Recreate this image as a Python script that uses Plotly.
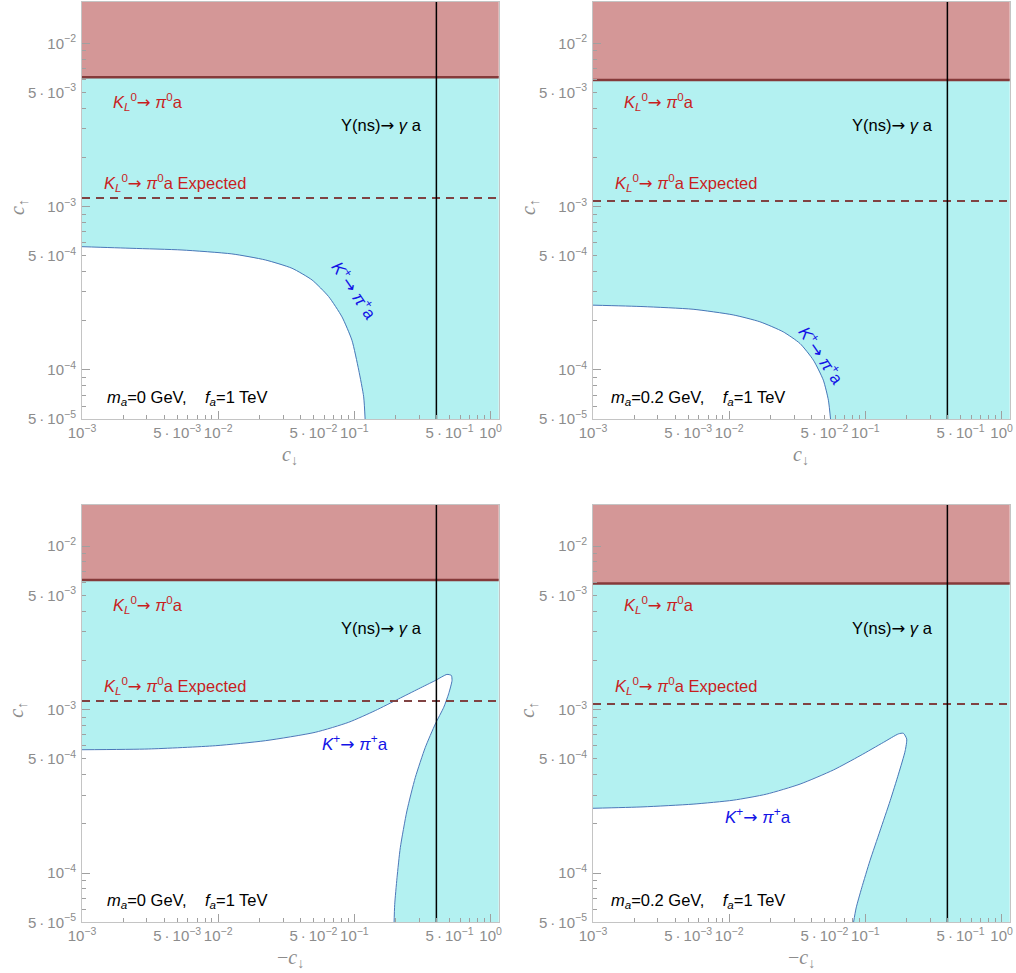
import plotly.graph_objects as go
import numpy as np

W, H = 1016, 973

# ---------------- data ----------------
X_MIN, X_MAX = 1e-3, 1.147
Y_MIN, Y_MAX = 5e-5, 0.0179

# K+ -> pi+ a exclusion boundary
KP_X_1 = [1.0e-3, 2.33e-3, 5.42e-3, 1.26e-2, 2.22e-2, 3.48e-2, 4.89e-2, 6.47e-2, 8.11e-2, 9.59e-2, 0.1076, 0.117, 0.120]
KP_Y_1 = [5.68e-4, 5.55e-4, 5.42e-4, 5.13e-4, 4.71e-4, 4.19e-4, 3.55e-4, 2.81e-4, 2.11e-4, 1.52e-4, 9.96e-5, 6.83e-5, 4.9e-5]

KP_X_2 = [1.0e-3, 2.33e-3, 5.43e-3, 1.07e-2, 1.68e-2, 2.49e-2, 3.31e-2, 4.15e-2, 4.91e-2, 5.35e-2, 5.56e-2]
KP_Y_2 = [2.49e-4, 2.44e-4, 2.35e-4, 2.17e-4, 1.97e-4, 1.71e-4, 1.45e-4, 1.147e-4, 8.65e-5, 6.52e-5, 4.9e-5]

KP_X_3 = [1.0e-3, 3.09e-3, 9.53e-3, 2.22e-2, 5.16e-2, 9.08e-2, 0.1424, 0.2115, 0.2965, 0.393, 0.478, 0.515,
          0.521, 0.492, 0.453, 0.393, 0.3316, 0.280, 0.243, 0.2173, 0.2056, 0.1977, 0.1954]
KP_Y_3 = [5.68e-4, 5.74e-4, 6.01e-4, 6.45e-4, 7.26e-4, 8.36e-4, 9.86e-4, 1.163e-3, 1.34e-3, 1.506e-3, 1.64e-3, 1.617e-3,
          1.506e-3, 1.248e-3, 1.033e-3, 8.17e-4, 5.87e-4, 3.84e-4, 2.40e-4, 1.43e-4, 9.36e-5, 6.43e-5, 4.84e-5]

KP_X_4 = [1.0e-3, 2.33e-3, 5.43e-3, 1.07e-2, 1.88e-2, 3.31e-2, 5.82e-2, 9.14e-2, 0.1357, 0.175, 0.190, 0.201,
          0.196, 0.175, 0.152, 0.128, 0.108, 0.094, 0.0855, 0.0817]
KP_Y_4 = [2.49e-4, 2.54e-4, 2.64e-4, 2.79e-4, 3.04e-4, 3.50e-4, 4.27e-4, 5.22e-4, 6.30e-4, 7.10e-4, 7.16e-4, 6.61e-4,
          5.60e-4, 4.03e-4, 2.77e-4, 1.81e-4, 1.19e-4, 8.13e-5, 6.12e-5, 4.96e-5]

KL_BOUND = [6.2e-3, 5.95e-3, 6.2e-3, 5.9e-3]        # K_L -> pi0 a current bound
KL_EXPECTED = [1.13e-3, 1.08e-3, 1.13e-3, 1.08e-3]  # K_L -> pi0 a expected
UPSILON_X = [0.4, 0.4, 0.4, 0.4]                    # Upsilon(ns) -> gamma a

MASS_LABELS = ["0", "0.2", "0", "0.2"]
X_TITLES = ["<i>c</i><sub>↓</sub>", "<i>c</i><sub>↓</sub>", "−<i>c</i><sub>↓</sub>", "−<i>c</i><sub>↓</sub>"]

D = "\u2009·\u2009"
X_TICKS = [1e-3, 5e-3, 1e-2, 5e-2, 1e-1, 5e-1, 1e0]
X_TICK_TEXT = ["10<sup>−3</sup>", "5" + D + "10<sup>−3</sup>", "10<sup>−2</sup>", "5" + D + "10<sup>−2</sup>",
               "10<sup>−1</sup>", "5" + D + "10<sup>−1</sup>", "10<sup>0</sup>"]
Y_TICKS = [5e-5, 1e-4, 5e-4, 1e-3, 5e-3, 1e-2]
Y_TICK_TEXT = ["5" + D + "10<sup>−5</sup>", "10<sup>−4</sup>", "5" + D + "10<sup>−4</sup>", "10<sup>−3</sup>",
               "5" + D + "10<sup>−3</sup>", "10<sup>−2</sup>"]
X_DECADES = [1e-3, 1e-2, 1e-1, 1.0]
Y_DECADES = [1e-4, 1e-3, 1e-2]

KP_X = [KP_X_1, KP_X_2, KP_X_3, KP_X_4]
KP_Y = [KP_Y_1, KP_Y_2, KP_Y_3, KP_Y_4]

# ---------------- layout geometry (pixels) ----------------
PX_X = [(82, 498.7), (593, 1009.7), (82, 498.7), (593, 1009.7)]
PX_Y = [(2, 419), (2, 419), (504.7, 922.3), (504.7, 922.3)]
KP_LABEL = [(273, 288, 56), (229, 353, 56), (273, 238, 0), (164.5, 311, 0)]

CYAN = "#b3f1f1"
RED_FILL = "#d49797"
RED_LINE = "#853a3a"
DASH_COL = "#804242"
CURVE = "#4a77b8"
TXT_RED = "#c81e1e"
TXT_BLUE = "#1414e6"
GREY = "#8c8c8c"
FONT = "Liberation Sans, Arial, sans-serif"
ARROW = "<span style=\"font-family:'DejaVu Sans'\">→</span>"


def P(px, py):
    return px / W, 1 - py / H


def minor_vals(lo_exp, hi_exp, mult):
    out = []
    for e in range(lo_exp, hi_exp + 1):
        for m in mult:
            out.append(m * 10.0 ** e)
    return out


fig = go.Figure()
annotations = []

x_minor = minor_vals(-3, -1, [2, 3, 4, 6, 7, 8, 9])
y_minor = [v for v in minor_vals(-5, -2, [2, 3, 4, 6, 7, 8, 9]) if Y_MIN < v < Y_MAX]

for i in range(4):
    xa = "x" if i == 0 else f"x{i+1}"
    ya = "y" if i == 0 else f"y{i+1}"
    lo, hi = Y_MIN * 0.7, Y_MAX * 1.5
    xl, xh = X_MIN * 0.7, X_MAX * 1.5
    b = KL_BOUND[i]
    # cyan excluded region
    fig.add_trace(go.Scatter(x=[xl, xh, xh, xl, xl], y=[lo, lo, b, b, lo], xaxis=xa, yaxis=ya,
                             mode="lines", fill="toself", fillcolor=CYAN, line=dict(width=0),
                             hoverinfo="skip", showlegend=False))
    # allowed (white) region bounded by K+ -> pi+ a
    wx = [xl] + KP_X[i] + [KP_X[i][-1], xl, xl]
    wy = [KP_Y[i][0]] + KP_Y[i] + [lo, lo, KP_Y[i][0]]
    fig.add_trace(go.Scatter(x=wx, y=wy, xaxis=xa, yaxis=ya, mode="lines", fill="toself",
                             fillcolor="white", line=dict(width=0), hoverinfo="skip", showlegend=False))
    fig.add_trace(go.Scatter(x=KP_X[i], y=KP_Y[i], xaxis=xa, yaxis=ya, mode="lines",
                             line=dict(color=CURVE, width=1, shape="spline", smoothing=0.6),
                             hoverinfo="skip", showlegend=False))
    # red band
    fig.add_trace(go.Scatter(x=[xl, xh, xh, xl, xl], y=[b, b, hi, hi, b], xaxis=xa, yaxis=ya,
                             mode="lines", fill="toself", fillcolor=RED_FILL, line=dict(width=0),
                             hoverinfo="skip", showlegend=False))
    fig.add_trace(go.Scatter(x=[xl, xh], y=[b, b], xaxis=xa, yaxis=ya, mode="lines",
                             line=dict(color=RED_LINE, width=2.5), hoverinfo="skip", showlegend=False))
    # expected dashed line
    fig.add_trace(go.Scatter(x=[X_MIN, xh], y=[KL_EXPECTED[i]] * 2, xaxis=xa, yaxis=ya, mode="lines",
                             line=dict(color=DASH_COL, width=2, dash="8px,6px"),
                             hoverinfo="skip", showlegend=False))
    # Upsilon vertical line
    fig.add_trace(go.Scatter(x=[UPSILON_X[i]] * 2, y=[lo, hi], xaxis=xa, yaxis=ya, mode="lines",
                             line=dict(color="black", width=1.5), hoverinfo="skip", showlegend=False))

    xd = (PX_X[i][0] / W, PX_X[i][1] / W)
    yd = (1 - PX_Y[i][1] / H, 1 - PX_Y[i][0] / H)
    xrng = [np.log10(X_MIN), np.log10(X_MAX)]
    yrng = [np.log10(Y_MIN), np.log10(Y_MAX)]
    axcommon = dict(type="log", showgrid=False, zeroline=False, showline=True, mirror=True,
                    automargin=False,
                    linecolor="#c4c4c4", linewidth=1, ticks="inside", ticklen=4, tickwidth=1,
                    tickcolor="#a0a0a0", tickmode="array",
                    tickfont=dict(family=FONT, size=15, color=GREY))
    xkey = "xaxis" if i == 0 else f"xaxis{i+1}"
    ykey = "yaxis" if i == 0 else f"yaxis{i+1}"
    # overlay axes carrying the long (decade) ticks only
    j = i + 5
    fig.update_layout({
        xkey: dict(axcommon, domain=xd, anchor=ya, range=xrng,
                   tickvals=X_TICKS, ticktext=X_TICK_TEXT,
                   minor=dict(tickmode="array", tickvals=x_minor, ticks="inside",
                              ticklen=4, tickcolor="#a0a0a0", tickwidth=1)),
        ykey: dict(axcommon, domain=yd, anchor=xa, range=yrng,
                   tickvals=Y_TICKS, ticktext=Y_TICK_TEXT, ticklabelstandoff=2,
                   minor=dict(tickmode="array", tickvals=y_minor, ticks="inside",
                              ticklen=4, tickcolor="#a0a0a0", tickwidth=1)),
        f"xaxis{j}": dict(type="log", overlaying=xa, anchor=ya, range=xrng, automargin=False,
                          showgrid=False, zeroline=False, showline=False, showticklabels=False,
                          ticks="inside", ticklen=8, tickcolor="#a0a0a0", tickmode="array",
                          tickvals=X_DECADES),
        f"yaxis{j}": dict(type="log", overlaying=ya, anchor=xa, range=yrng, automargin=False,
                          showgrid=False, zeroline=False, showline=False, showticklabels=False,
                          ticks="inside", ticklen=8, tickcolor="#a0a0a0", tickmode="array",
                          tickvals=Y_DECADES),
    })
    # invisible anchor trace for overlay axes
    fig.add_trace(go.Scatter(x=[X_MIN], y=[Y_MIN], xaxis=f"x{j}", yaxis=f"y{j}", mode="markers",
                             marker=dict(size=1, opacity=0), hoverinfo="skip", showlegend=False))

    ox, oy = PX_X[i][0], PX_Y[i][0]
    kl = "<i>K</i><sub><i>L</i></sub><sup>0</sup>" + ARROW + " <i>π</i><sup>0</sup>a"
    texts = [
        (29, 100, kl, TXT_RED),
        (257, 124, "Υ(ns)" + ARROW + " <i>γ</i> a", "black"),
        (19.7, 181.3, kl + " Expected", TXT_RED),
        (23 if i % 2 == 0 else 16.3, 396,
         "<i>m</i><sub><i>a</i></sub>=" + MASS_LABELS[i] + " GeV,\u00a0\u00a0\u00a0\u00a0<i>f</i><sub><i>a</i></sub>=1 TeV",
         "black"),
    ]
    for dx, dy, t, c in texts:
        x, y = P(ox + dx, oy + dy)
        annotations.append(dict(x=x, y=y, xref="paper", yref="paper", text=t, showarrow=False,
                                xanchor="left", yanchor="middle",
                                font=dict(family=FONT, size=16.5, color=c)))
    dx, dy, ang = KP_LABEL[i]
    x, y = P(ox + dx, oy + dy)
    annotations.append(dict(x=x, y=y, xref="paper", yref="paper",
                            text="<i>K</i><sup>+</sup>" + ARROW + " <i>π</i><sup>+</sup>a", showarrow=False,
                            xanchor="center", yanchor="middle", textangle=ang,
                            font=dict(family=FONT, size=17, color=TXT_BLUE)))
    # axis titles
    cx = (PX_X[i][0] + PX_X[i][1]) / 2
    x, y = P(cx, PX_Y[i][1] + 36)
    annotations.append(dict(x=x, y=y, xref="paper", yref="paper", text=X_TITLES[i], showarrow=False,
                            xanchor="center", yanchor="middle",
                            font=dict(family="Liberation Serif, Times New Roman, serif", size=20, color=GREY)))
    cy = PX_Y[i][0] + 205
    x, y = P(PX_X[i][0] - 64, cy)
    annotations.append(dict(x=x, y=y, xref="paper", yref="paper", text="<i>c</i><sub>↑</sub>",
                            showarrow=False, xanchor="center", yanchor="middle", textangle=-90,
                            font=dict(family="Liberation Serif, Times New Roman, serif", size=20, color=GREY)))

fig.update_layout(width=W, height=H, margin=dict(l=0, r=0, t=0, b=0), paper_bgcolor="white",
                  plot_bgcolor="white", showlegend=False, annotations=annotations)

fig.write_html("out.html")
